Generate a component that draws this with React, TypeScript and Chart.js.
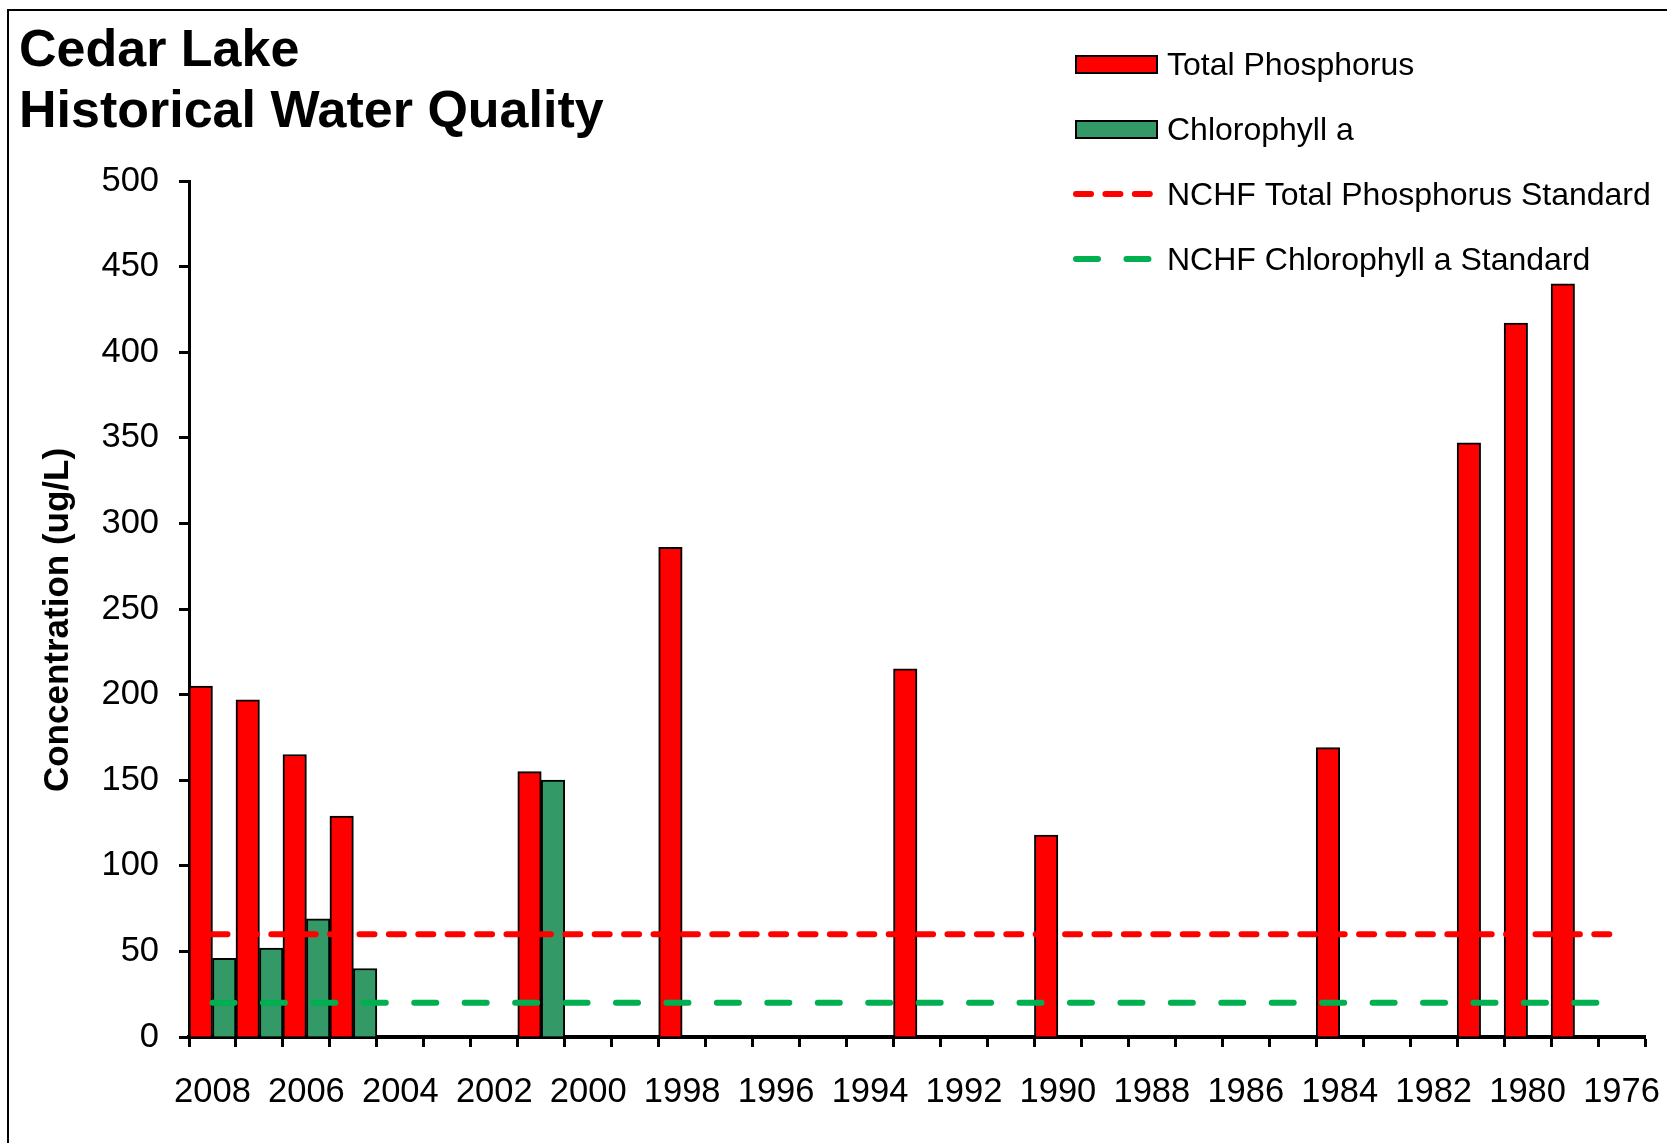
import React, { useEffect, useRef } from "react";
import { Chart, registerables } from "chart.js";

Chart.register(...registerables);

const FONT = "'Liberation Sans', Arial, sans-serif";

const categories = [
  "2008", "2007", "2006", "2005", "2004", "2003", "2002", "2001", "2000", "1999",
  "1998", "1997", "1996", "1995", "1994", "1993", "1992", "1991", "1990", "1989",
  "1988", "1987", "1986", "1985", "1984", "1983", "1982", "1981", "1980", "1979",
  "1976",
];

const totalPhosphorus = [
  205, 197, 165, 129, null, null, null, 155, null, null,
  286, null, null, null, null, 215, null, null, 118, null,
  null, null, null, null, 169, null, null, 347, 417, 440,
  null,
];

const chlorophyllA = [
  46, 52, 69, 40, null, null, null, 150, null, null,
  null, null, null, null, null, null, null, null, null, null,
  null, null, null, null, null, null, null, null, null, null,
  null,
];

const tpStandard = [
  60, 60, 60, 60, 60, 60, 60, 60, 60, 60,
  60, 60, 60, 60, 60, 60, 60, 60, 60, 60,
  60, 60, 60, 60, 60, 60, 60, 60, 60, 60,
  60,
];

const chlStandard = [
  20, 20, 20, 20, 20, 20, 20, 20, 20, 20,
  20, 20, 20, 20, 20, 20, 20, 20, 20, 20,
  20, 20, 20, 20, 20, 20, 20, 20, 20, 20,
  20,
];

const titleLines = ["Cedar Lake", "Historical Water Quality"];
const yAxisTitle = "Concentration (ug/L)";

const decorPlugin = {
  id: "decor",
  afterDraw(chart: any) {
    const ctx = chart.ctx as CanvasRenderingContext2D;
    ctx.save();
    // outer frame
    ctx.strokeStyle = "#000";
    ctx.lineWidth = 2;
    ctx.strokeRect(8, 10, 1800, 1300);

    // title
    ctx.fillStyle = "#000";
    ctx.textAlign = "left";
    ctx.textBaseline = "alphabetic";
    ctx.font = `bold 52px ${FONT}`;
    ctx.fillText(titleLines[0], 19, 66);
    ctx.fillText(titleLines[1], 19, 127);

    // y axis title
    ctx.save();
    ctx.translate(58, 620);
    ctx.rotate(-Math.PI / 2);
    ctx.textAlign = "center";
    ctx.textBaseline = "middle";
    ctx.font = `bold 35px ${FONT}`;
    ctx.fillText(yAxisTitle, 0, 0);
    ctx.restore();

    // legend
    const ds = chart.data.datasets;
    const boxX = 1076;
    const textX = 1167;
    const rows = [65, 130, 195, 260];
    ctx.font = `32px ${FONT}`;
    ctx.textBaseline = "middle";
    ctx.textAlign = "left";
    ds.forEach((d: any, i: number) => {
      const y = rows[i];
      if (d.type === "bar") {
        ctx.fillStyle = d.backgroundColor;
        ctx.fillRect(boxX, y - 9, 81, 17);
        ctx.strokeStyle = "#000";
        ctx.lineWidth = 2;
        ctx.setLineDash([]);
        ctx.strokeRect(boxX, y - 9, 81, 17);
      } else {
        ctx.strokeStyle = d.borderColor;
        ctx.lineWidth = d.borderWidth;
        ctx.lineCap = "round";
        ctx.setLineDash(d.borderDash);
        ctx.beginPath();
        ctx.moveTo(boxX, y - 1);
        ctx.lineTo(boxX + 76, y - 1);
        ctx.stroke();
        ctx.setLineDash([]);
      }
      ctx.fillStyle = "#000";
      ctx.fillText(d.label, textX, y + 1);
    });
    ctx.restore();
  },
};

export default function App() {
  const ref = useRef<HTMLCanvasElement>(null);

  useEffect(() => {
    document.body.style.margin = "0";
    const canvas = ref.current!;
    const chart = new Chart(canvas, {
      type: "bar",
      data: {
        labels: categories,
        datasets: [
          {
            type: "bar",
            label: "Total Phosphorus",
            data: totalPhosphorus,
            backgroundColor: "#FF0000",
            borderColor: "#000000",
            borderWidth: 2,
            order: 1,
          },
          {
            type: "bar",
            label: "Chlorophyll a",
            data: chlorophyllA,
            backgroundColor: "#339966",
            borderColor: "#000000",
            borderWidth: 2,
            order: 1,
          },
          {
            type: "line",
            label: "NCHF Total Phosphorus Standard",
            data: tpStandard,
            borderColor: "#FF0000",
            borderWidth: 6,
            borderDash: [15, 14.4],
            borderCapStyle: "round",
            pointRadius: 0,
            fill: false,
            order: 0,
          },
          {
            type: "line",
            label: "NCHF Chlorophyll a Standard",
            data: chlStandard,
            borderColor: "#00B050",
            borderWidth: 6,
            borderDash: [22, 28.44],
            borderCapStyle: "round",
            pointRadius: 0,
            fill: false,
            order: 0,
          },
        ] as any,
      },
      options: {
        responsive: false,
        animation: false,
        devicePixelRatio: 1,
        datasets: {
          bar: { barPercentage: 1, categoryPercentage: 1 },
        },
        layout: { padding: { top: 181, right: 22, left: 0, bottom: 0 } },
        plugins: {
          legend: { display: false },
          title: { display: false },
          tooltip: { enabled: false },
        },
        scales: {
          x: {
            type: "category",
            offset: true,
            border: { display: true, color: "#000", width: 4 },
            grid: {
              display: true,
              offset: true,
              drawOnChartArea: false,
              drawTicks: true,
              tickLength: 10,
              tickWidth: 3,
              tickColor: "#000",
            },
            ticks: {
              autoSkip: false,
              maxRotation: 0,
              minRotation: 0,
              padding: 25,
              color: "#000",
              font: { family: FONT, size: 34.5 },
              callback: (_v: any, i: number) => (i % 2 === 0 ? categories[i] : ""),
            },
            afterFit: (s: any) => {
              s.height = 106;
              s.paddingLeft = 0;
              s.paddingRight = 0;
            },
          },
          y: {
            min: 0,
            max: 500,
            border: { display: true, color: "#000", width: 3 },
            grid: {
              display: true,
              drawOnChartArea: false,
              drawTicks: true,
              tickLength: 10,
              tickWidth: 3,
              tickColor: "#000",
            },
            ticks: {
              stepSize: 50,
              padding: 20,
              color: "#000",
              font: { family: FONT, size: 34.5 },
            },
            afterFit: (s: any) => {
              s.width = 189;
              s.paddingTop = 0;
              s.paddingBottom = 0;
            },
          },
        },
      } as any,
      plugins: [decorPlugin],
    });
    return () => chart.destroy();
  }, []);

  return (
    <div style={{ position: "absolute", left: 0, top: 0, width: 1667, height: 1143, overflow: "hidden", background: "#fff" }}>
      <canvas ref={ref} width={1667} height={1143} style={{ display: "block" }} />
    </div>
  );
}
